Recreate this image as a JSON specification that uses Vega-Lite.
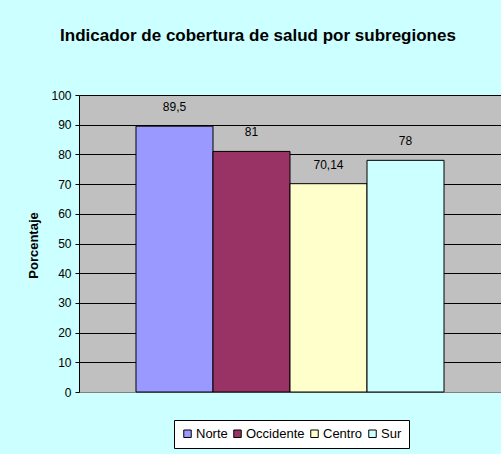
{
  "$schema": "https://vega.github.io/schema/vega-lite/v6.json",
  "width": 422,
  "height": 297,
  "autosize": "none",
  "padding": {"left": 79, "top": 95, "right": 0, "bottom": 62},
  "background": "#CCFFFF",
  "title": {
    "text": "Indicador de cobertura de salud por subregiones",
    "font": "Liberation Sans",
    "fontSize": 17,
    "fontWeight": "bold",
    "color": "black",
    "anchor": "middle",
    "frame": "group",
    "dx": -32,
    "offset": 44
  },
  "config": {
    "view": {"fill": "#C0C0C0", "stroke": null},
    "font": "Liberation Sans"
  },
  "data": {
    "values": [
      {"region": "Norte", "valor": 89.5, "etiqueta": "89,5"},
      {"region": "Occidente", "valor": 81, "etiqueta": "81"},
      {"region": "Centro", "valor": 70.14, "etiqueta": "70,14"},
      {"region": "Sur", "valor": 78, "etiqueta": "78"}
    ]
  },
  "encoding": {
    "x": {
      "field": "region",
      "type": "nominal",
      "sort": ["Norte", "Occidente", "Centro", "Sur"],
      "scale": {"paddingInner": 0, "paddingOuter": 0.74},
      "axis": {"labels": false, "ticks": false, "title": null, "domainColor": "#808080", "grid": false}
    },
    "y": {
      "field": "valor",
      "type": "quantitative",
      "scale": {"domain": [0, 100], "nice": false},
      "axis": {
        "values": [0, 10, 20, 30, 40, 50, 60, 70, 80, 90, 100],
        "title": "Porcentaje",
        "titleFont": "Liberation Sans",
        "titleFontSize": 13,
        "titleFontWeight": "bold",
        "titleColor": "black",
        "titleX": -46,
        "titleY": 150,
        "titleAngle": -90,
        "titleAlign": "center",
        "titleBaseline": "middle",
        "labelFontSize": 12,
        "labelColor": "black",
        "labelPadding": 4,
        "tickSize": 4,
        "tickColor": "black",
        "domainColor": "black",
        "grid": true,
        "gridColor": {"condition": {"test": "datum.value === 0", "value": "#808080"}, "value": "black"},
        "gridOpacity": 1
      }
    }
  },
  "layer": [
    {
      "mark": {"type": "bar", "stroke": "black", "strokeWidth": 1},
      "encoding": {
        "color": {
          "field": "region",
          "type": "nominal",
          "sort": ["Norte", "Occidente", "Centro", "Sur"],
          "scale": {"domain": ["Norte", "Occidente", "Centro", "Sur"], "range": ["#9999FF", "#993366", "#FFFFCC", "#CCFFFF"]},
          "legend": {
            "orient": "none",
            "legendX": 95,
            "legendY": 325,
            "direction": "horizontal",
            "title": null,
            "strokeColor": "black",
            "fillColor": "white",
            "padding": 7,
            "symbolType": "square",
            "symbolSize": 56,
            "symbolStrokeColor": "black",
            "symbolStrokeWidth": 1,
            "symbolOpacity": 1,
            "labelFontSize": 13,
            "labelColor": "black",
            "labelOffset": 2,
            "columnPadding": 3
          }
        }
      }
    },
    {
      "mark": {"type": "text", "fontSize": 12, "color": "black", "baseline": "middle", "dy": -19},
      "encoding": {
        "text": {"field": "etiqueta"}
      }
    }
  ]
}
